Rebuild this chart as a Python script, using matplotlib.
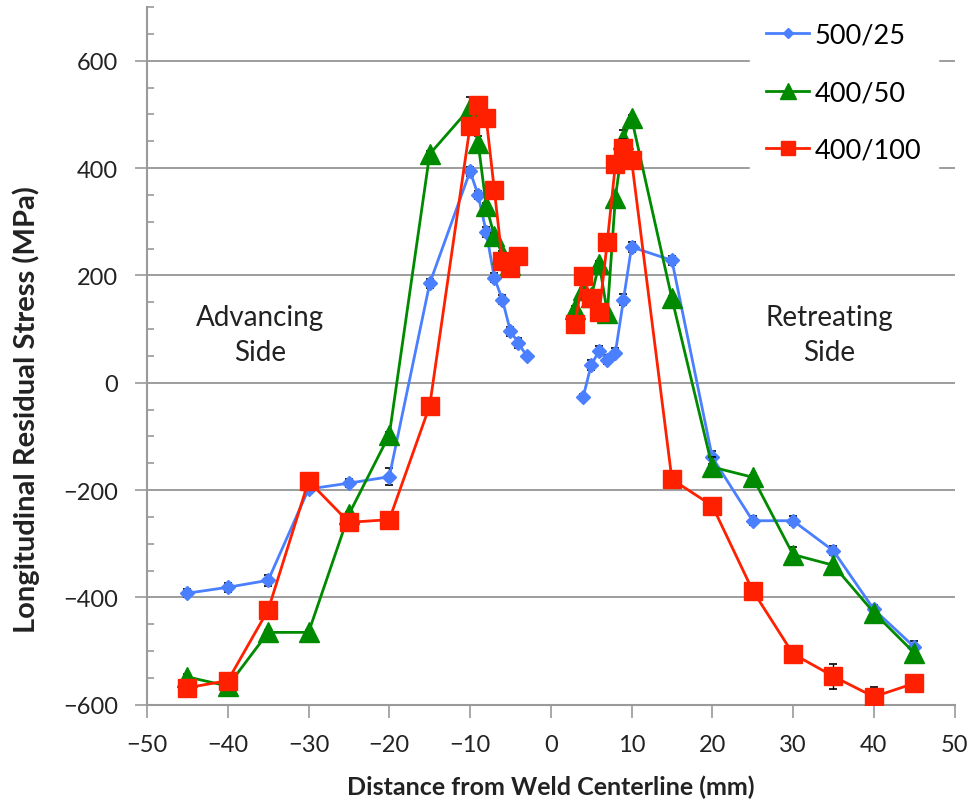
import numpy as np
import matplotlib.pyplot as plt
from matplotlib.ticker import MultipleLocator

plt.rcParams['font.family'] = ['Lato', 'DejaVu Sans']

# 500/25 series
x_500_25 = [-45, -40, -35, -30, -25, -20, -15, -10, -9, -8, -7, -6, -5, -4, -3,
            4, 5, 6, 7, 8, 9, 10, 15, 20, 25, 30, 35, 40, 45]
y_500_25 = [-392, -381, -368, -198, -187, -175, 185, 394, 350, 281, 196, 155, 96, 74, 50,
            -27, 33, 60, 43, 56, 155, 253, 228, -139, -257, -257, -313, -422, -492]
e_500_25 = [8, 8, 10, 8, 8, 16, 8, 8, 8, 10, 8, 8, 8, 10, 6,
            6, 10, 8, 8, 8, 10, 10, 8, 12, 8, 8, 8, 8, 10]

# 400/50 series
x_400_50 = [-45, -40, -35, -30, -25, -20, -15, -10, -9, -8, -7, -6, -5,
            3, 4, 5, 6, 7, 8, 9, 10, 15, 20, 25, 30, 35, 40, 45]
y_400_50 = [-548, -565, -465, -465, -245, -97, 426, 512, 447, 330, 274, 240, 220,
            138, 172, 160, 222, 130, 345, 455, 493, 157, -157, -176, -320, -340, -428, -503]
e_400_50 = [5, 5, 5, 5, 5, 5, 5, 20, 12, 5, 5, 5, 5,
            5, 5, 5, 5, 5, 5, 15, 5, 5, 18, 5, 14, 5, 5, 5]

# 400/100 series
x_400_100 = [-45, -40, -35, -30, -25, -20, -15, -10, -9, -8, -7, -6, -5, -4,
             3, 4, 5, 6, 7, 8, 9, 10, 15, 20, 25, 30, 35, 40, 45]
y_400_100 = [-568, -555, -423, -183, -260, -255, -43, 478, 518, 493, 360, 226, 213, 236,
             110, 198, 157, 131, 263, 407, 437, 415, -180, -229, -387, -505, -547, -585, -560]
e_400_100 = [5, 5, 5, 5, 5, 5, 5, 5, 5, 5, 5, 5, 5, 5,
             5, 5, 5, 5, 5, 5, 18, 5, 12, 5, 5, 5, 24, 18, 5]

series = [
    ('500/25', x_500_25, y_500_25, e_500_25, '#4a7fff', 'D', 7, 3),
    ('400/50', x_400_50, y_400_50, e_400_50, '#008a00', '^', 15, 4),
    ('400/100', x_400_100, y_400_100, e_400_100, '#ff2000', 's', 13.5, 5),
]

fig = plt.figure(figsize=(9.74, 8.03), dpi=100)
ax = fig.add_axes([0.151, 0.121, 0.829, 0.869])

for name, xs, ys, es, col, mk, size, z in series:
    xs, ys, es = np.asarray(xs), np.asarray(ys), np.asarray(es)
    # advancing and retreating sides are drawn as separate traces
    for i, side in enumerate([xs < 0, xs > 0]):
        ax.errorbar(xs[side], ys[side], yerr=es[side], fmt='none', ecolor='black',
                    elinewidth=1, capsize=3, capthick=1.2, zorder=z - 0.5)
        ax.plot(xs[side], ys[side], color=col, lw=2, marker=mk, ms=size,
                label=name if i == 0 else None, zorder=z)

ax.set_xlim(-50, 50)
ax.set_ylim(-600, 700)
ax.xaxis.set_major_locator(MultipleLocator(10))
ax.yaxis.set_minor_locator(MultipleLocator(50))
ax.set_yticks([-600, -400, -200, 0, 200, 400, 600])

ax.grid(axis='y', which='major', color='#8c8c8c', lw=1.2, zorder=0)
ax.set_axisbelow(True)
for side in ['top', 'right']:
    ax.spines[side].set_visible(False)
for side in ['left', 'bottom']:
    ax.spines[side].set_color('#9a9a9a')
    ax.spines[side].set_linewidth(1.5)

ax.tick_params(axis='both', which='major', direction='out', length=9,
               color='#9a9a9a', width=1.2, labelsize=17, labelcolor='#222222')
ax.tick_params(axis='y', which='minor', direction='in', length=5,
               color='#9a9a9a', width=1.2)
ax.tick_params(axis='y', which='major', pad=12)
ax.tick_params(axis='x', which='major', pad=12)

ax.set_xlabel('Distance from Weld Centerline (mm)', fontsize=18,
              fontweight='bold', color='#222222', labelpad=14)
ax.set_ylabel('Longitudinal Residual Stress (MPa)', fontsize=21,
              fontweight='bold', color='#222222')
ax.yaxis.set_label_coords(-0.132, 0.424)

ax.text(-36, 90, 'Advancing\nSide', ha='center', va='center', fontsize=20,
        color='#222222', linespacing=1.45)
ax.text(34.5, 90, 'Retreating\nSide', ha='center', va='center', fontsize=20,
        color='#222222', linespacing=1.45)

leg = ax.legend(loc='upper right', bbox_to_anchor=(0.996, 1.02), frameon=True,
                fontsize=19.5, labelspacing=1.2, handlelength=1.6,
                handletextpad=0.2, borderpad=0.6, markerscale=0.75)
leg.get_frame().set_edgecolor('white')
leg.get_frame().set_facecolor('white')
leg.get_frame().set_alpha(1)
leg.get_frame().set_boxstyle('square', pad=0)

fig.savefig('out.png', dpi=100)
